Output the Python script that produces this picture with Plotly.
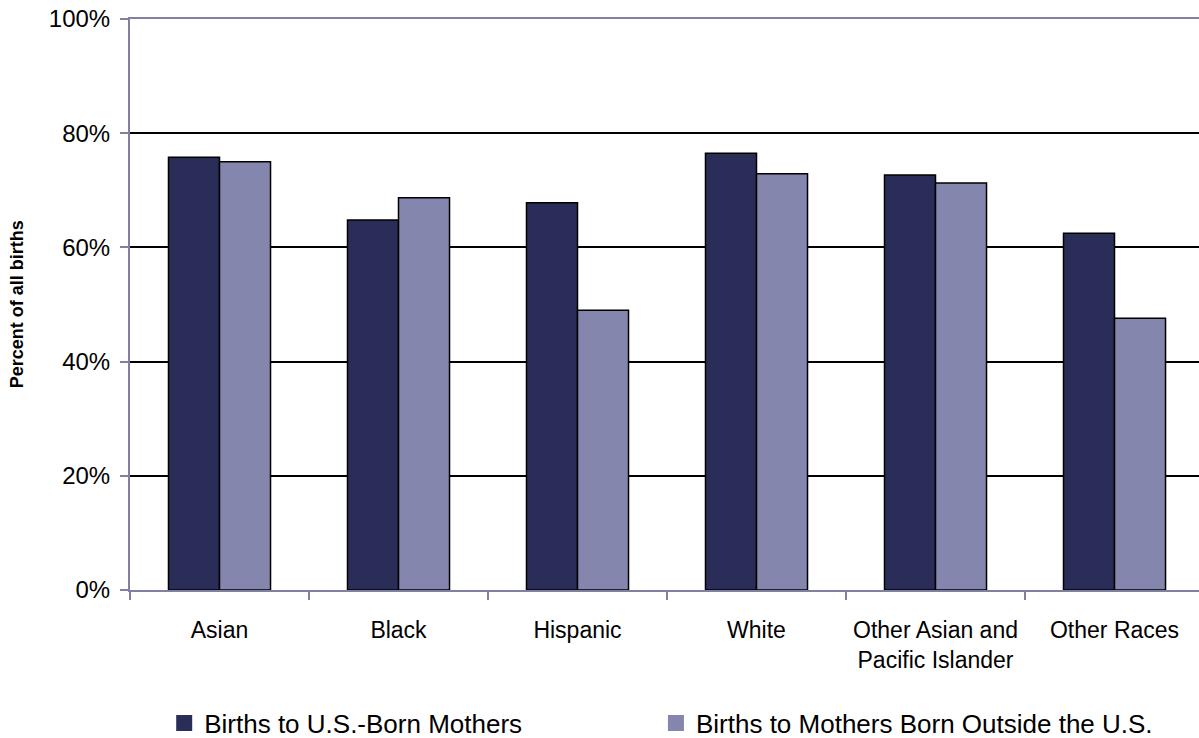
import plotly.graph_objects as go

categories = ["Asian", "Black", "Hispanic", "White",
              "Other Asian and<br>Pacific Islander", "Other Races"]
us_born = [75.8, 64.8, 67.8, 76.5, 72.7, 62.5]
foreign_born = [75.0, 68.7, 49.0, 72.9, 71.3, 47.6]
series_names = ["Births to U.S.-Born Mothers",
                "Births to Mothers Born Outside the U.S."]
y_ticks = [0, 20, 40, 60, 80, 100]
y_tick_text = [f"{v}%" for v in y_ticks]

DARK = "#2B2D59"
LIGHT = "#8486AD"
AXIS = "#8080A0"
FONT = "Liberation Sans, Arial, sans-serif"

fig = go.Figure()
for name, vals, col, lg in [(series_names[0], us_born, DARK, "legend"),
                            (series_names[1], foreign_born, LIGHT, "legend2")]:
    fig.add_trace(go.Bar(
        x=categories, y=vals, name=name, showlegend=False,
        marker=dict(color=col, line=dict(color="#000000", width=1.5)),
    ))
    # square legend swatch
    fig.add_trace(go.Scatter(
        x=[None], y=[None], mode="markers", name=name, legend=lg,
        marker=dict(symbol="square", size=20, color=col),
    ))

legend_style = dict(orientation="h", xanchor="left", y=-0.233,
                    yanchor="middle", font=dict(size=26, family=FONT),
                    itemwidth=30, bgcolor="rgba(0,0,0,0)")

fig.update_layout(
    width=1199, height=738,
    margin=dict(l=130, r=0, t=19, b=148, autoexpand=False),
    paper_bgcolor="white", plot_bgcolor="white",
    barmode="group", bargap=0.43, bargroupgap=0,
    font=dict(family=FONT, color="#000000"),
    legend=dict(x=0.032, **legend_style),
    legend2=dict(x=0.492, **legend_style),
    xaxis=dict(
        range=[-0.5, 5.472], showline=True, mirror=True,
        linecolor=AXIS, linewidth=2, showgrid=False,
        ticks="outside", tickson="boundaries", ticklen=8,
        tickcolor=AXIS, tickwidth=1.5, automargin=False,
        tickfont=dict(size=23, family=FONT), ticklabelstandoff=18,
    ),
    yaxis=dict(
        range=[0, 100], tickvals=y_ticks, ticktext=y_tick_text,
        showline=True, linecolor=AXIS, linewidth=2,
        showgrid=True, gridcolor="#000000", gridwidth=1.5,
        ticks="outside", ticklen=8, tickcolor=AXIS, tickwidth=1.5,
        tickfont=dict(size=24, family=FONT), automargin=False,
        ticklabelstandoff=5, zeroline=False,
    ),
    annotations=[dict(
        text="<b>Percent of all births</b>", textangle=-90,
        xref="paper", yref="paper", x=-0.106, y=0.5,
        xanchor="center", yanchor="middle", showarrow=False,
        font=dict(size=18, family=FONT),
    )],
)

fig.write_html("out.html")
